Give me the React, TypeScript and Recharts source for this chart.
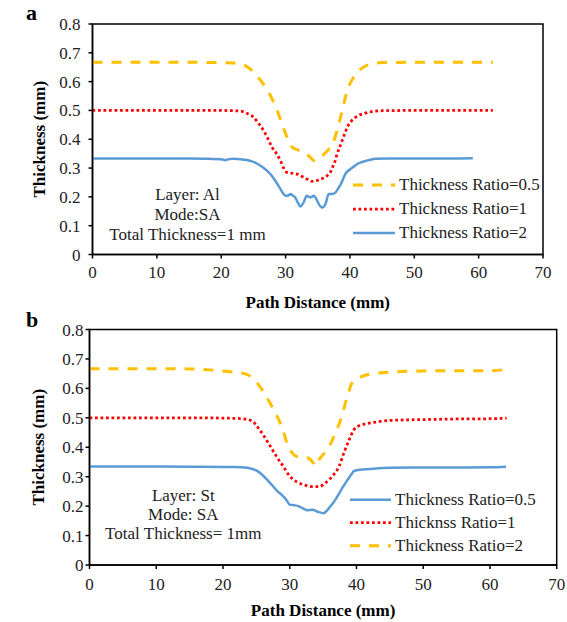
import React from 'react';
import { LineChart, Line, XAxis, YAxis, Legend, ReferenceArea } from 'recharts';

// panel a - Layer: Al, Mode: SA
const aRatio05X = [0, 5, 10, 15, 20, 22, 23, 24, 25, 26, 26.9, 27.8, 28.7, 29.4, 30, 30.8, 31.5, 32.3, 33.2, 33.9, 34.4, 35.2, 36, 36.7, 37.3, 38, 38.8, 39.6, 40.6, 41.5, 42.5, 43.5, 45, 50, 55, 60, 62.2];
const aRatio05Y = [0.667, 0.667, 0.667, 0.667, 0.666, 0.665, 0.662, 0.652, 0.634, 0.608, 0.58, 0.545, 0.5, 0.455, 0.42, 0.378, 0.366, 0.361, 0.35, 0.336, 0.326, 0.334, 0.349, 0.365, 0.384, 0.43, 0.5, 0.57, 0.616, 0.64, 0.655, 0.662, 0.666, 0.667, 0.667, 0.667, 0.667];

const aRatio1X = [0, 5, 10, 15, 20, 22, 23.2, 24, 25, 25.8, 26.6, 27.3, 27.9, 28.6, 29.2, 29.7, 30.2, 31, 31.8, 32.8, 33.5, 34.1, 34.8, 35.4, 36, 36.5, 37, 37.3, 37.7, 38, 38.4, 38.8, 39.2, 39.6, 40.1, 40.6, 41.3, 42.3, 43.4, 45, 50, 55, 60, 62.2];
const aRatio1Y = [0.5, 0.5, 0.5, 0.5, 0.5, 0.499, 0.497, 0.49, 0.477, 0.455, 0.43, 0.4, 0.372, 0.35, 0.326, 0.3, 0.285, 0.282, 0.279, 0.268, 0.26, 0.254, 0.256, 0.262, 0.266, 0.274, 0.287, 0.303, 0.325, 0.349, 0.372, 0.396, 0.42, 0.442, 0.46, 0.471, 0.482, 0.49, 0.496, 0.499, 0.5, 0.5, 0.5, 0.5];

const aRatio2X = [0, 5, 10, 15, 18, 20, 20.6, 21.2, 22, 23, 24, 24.8, 25.6, 26.4, 27.1, 27.8, 28.4, 29, 29.5, 30, 30.4, 30.8, 31.1, 31.5, 31.9, 32.3, 32.8, 33.3, 33.6, 33.9, 34.4, 34.9, 35.3, 35.7, 36.2, 36.7, 37.3, 37.8, 38.2, 38.6, 39.3, 40.1, 40.6, 41.2, 42, 43, 44, 46, 50, 55, 59.1];
const aRatio2Y = [0.333, 0.333, 0.333, 0.333, 0.332, 0.331, 0.327, 0.331, 0.332, 0.331, 0.328, 0.323, 0.315, 0.304, 0.291, 0.275, 0.256, 0.235, 0.216, 0.204, 0.205, 0.21, 0.205, 0.198, 0.18, 0.167, 0.181, 0.204, 0.2, 0.198, 0.204, 0.187, 0.17, 0.163, 0.175, 0.21, 0.21, 0.216, 0.23, 0.245, 0.28, 0.297, 0.305, 0.315, 0.322, 0.328, 0.332, 0.333, 0.333, 0.333, 0.334];

// panel b - Layer: St, Mode: SA
const bRatio05X = [0, 5, 10, 15, 20, 22, 23.3, 24.1, 24.9, 25.7, 26.6, 27.4, 28.1, 28.8, 29.4, 30, 30.7, 31.3, 31.9, 32.7, 33.4, 34.2, 35.1, 35.5, 35.9, 36.4, 36.9, 37.4, 37.9, 38.4, 38.9, 39.3, 39.6, 40.3, 42, 45, 50, 55, 60, 62.4];
const bRatio05Y = [0.335, 0.335, 0.335, 0.334, 0.333, 0.333, 0.331, 0.328, 0.322, 0.31, 0.29, 0.27, 0.252, 0.238, 0.224, 0.205, 0.203, 0.2, 0.193, 0.186, 0.188, 0.181, 0.176, 0.183, 0.194, 0.208, 0.224, 0.243, 0.263, 0.28, 0.297, 0.31, 0.319, 0.323, 0.326, 0.33, 0.331, 0.331, 0.332, 0.334];

const bRatio1X = [0, 5, 10, 15, 20, 22.8, 24.3, 25.5, 26.8, 28, 29, 30, 31, 32.2, 33.4, 34.4, 35.4, 36.4, 37.4, 38.1, 38.9, 39.6, 40.3, 41.5, 43, 45, 50, 55, 60, 62.5];
const bRatio1Y = [0.5, 0.5, 0.5, 0.5, 0.499, 0.497, 0.49, 0.459, 0.414, 0.369, 0.336, 0.302, 0.283, 0.272, 0.266, 0.266, 0.28, 0.302, 0.336, 0.38, 0.425, 0.459, 0.472, 0.48, 0.486, 0.491, 0.494, 0.496, 0.497, 0.499];

const bRatio2X = [0, 5, 10, 15, 18.4, 21.9, 23.2, 24.3, 25.2, 26.1, 27.5, 28.8, 29.7, 30.4, 31, 32.2, 33, 33.6, 33.9, 34.4, 35, 35.6, 36.6, 37.6, 38.6, 39.3, 40, 41, 42.5, 45, 50, 55, 60, 62.3];
const bRatio2Y = [0.667, 0.667, 0.667, 0.666, 0.662, 0.654, 0.65, 0.638, 0.616, 0.587, 0.531, 0.47, 0.408, 0.38, 0.369, 0.367, 0.36, 0.345, 0.336, 0.358, 0.375, 0.391, 0.436, 0.492, 0.57, 0.617, 0.632, 0.642, 0.65, 0.655, 0.659, 0.66, 0.66, 0.664];

const xTicks = [0, 10, 20, 30, 40, 50, 60, 70];
const yTicks = [0, 0.1, 0.2, 0.3, 0.4, 0.5, 0.6, 0.7, 0.8];

const aNotes = ['Layer: Al', 'Mode:SA', 'Total Thickness=1 mm'];
const bNotes = ['Layer: St', 'Mode: SA', 'Total Thickness= 1mm'];

const YELLOW = '#FFC000';
const RED = '#FF0000';
const BLUE = '#5B9BD5';
const FONT = '"Liberation Serif", "Times New Roman", serif';

const zip = (xs: number[], ys: number[]) => xs.map((x, i) => ({ x, y: ys[i] }));

interface Series {
  name: string;
  data: { x: number; y: number }[];
  color: string;
  width: number;
  dash?: string;
}

const yellowStyle = { color: YELLOW, width: 3, dash: '10 9' };
const redStyle = { color: RED, width: 2.75, dash: '2.75 2.75' };
const blueStyle = { color: BLUE, width: 2.5 };

const seriesA: Series[] = [
  { name: 'Thickness Ratio=0.5', data: zip(aRatio05X, aRatio05Y), ...yellowStyle },
  { name: 'Thickness Ratio=1', data: zip(aRatio1X, aRatio1Y), ...redStyle },
  { name: 'Thickness Ratio=2', data: zip(aRatio2X, aRatio2Y), ...blueStyle },
];

const seriesB: Series[] = [
  { name: 'Thickness Ratio=0.5', data: zip(bRatio05X, bRatio05Y), ...blueStyle },
  { name: 'Thicknss Ratio=1', data: zip(bRatio1X, bRatio1Y), ...redStyle },
  { name: 'Thickness Ratio=2', data: zip(bRatio2X, bRatio2Y), ...yellowStyle },
];

function LegendBox({ items, rowH, sampleW }: { items: Series[]; rowH: number; sampleW: number }) {
  return (
    <div style={{ fontFamily: FONT }}>
      {items.map(s => (
        <div key={s.name} style={{ display: 'flex', alignItems: 'center', height: rowH }}>
          <svg width={sampleW} height={rowH}>
            <line x1={0} x2={sampleW} y1={rowH / 2} y2={rowH / 2} stroke={s.color} strokeWidth={s.width} strokeDasharray={s.dash} />
          </svg>
          <span style={{ marginLeft: 4, fontSize: 17, color: '#222', lineHeight: rowH + 'px', whiteSpace: 'nowrap' }}>{s.name}</span>
        </div>
      ))}
    </div>
  );
}

interface PanelProps {
  series: Series[];
  height: number;
  margin: { top: number; right: number; bottom: number; left: number };
  yWidth: number;
  yTickMargin: number;
  xTickMargin: number;
  xLabelOffset: number;
  yLabelOffset: number;
  legendLeft: number;
  legendTop: number;
  legendRowH: number;
  legendSampleW: number;
}

function Panel(p: PanelProps) {
  const axisStyle = { stroke: '#000', strokeWidth: 1.5 };
  const tickStyle = { fill: '#222', fontSize: 17, fontFamily: FONT };
  const titleStyle = { fill: '#000', fontSize: 17, fontWeight: 'bold', fontFamily: FONT, textAnchor: 'middle' as const };
  return (
    <LineChart width={567} height={p.height} margin={p.margin}>
      <XAxis
        type="number"
        dataKey="x"
        domain={[0, 70]}
        ticks={xTicks}
        height={30}
        tickSize={4}
        tickMargin={p.xTickMargin}
        axisLine={axisStyle}
        tickLine={axisStyle}
        tick={tickStyle}
        label={{ value: 'Path Distance (mm)', position: 'bottom', offset: p.xLabelOffset, style: titleStyle }}
      />
      <YAxis
        type="number"
        domain={[0, 0.8]}
        ticks={yTicks}
        width={p.yWidth}
        tickSize={4}
        tickMargin={p.yTickMargin}
        axisLine={axisStyle}
        tickLine={axisStyle}
        tick={tickStyle}
        label={{ value: 'Thickness (mm)', angle: -90, position: 'insideLeft', offset: p.yLabelOffset, style: titleStyle }}
      />
      <ReferenceArea x1={0} x2={70} y1={0} y2={0.8} fill="none" fillOpacity={0} stroke="#000" strokeWidth={1.5} />
      {p.series.map(s => (
        <Line
          key={s.name}
          name={s.name}
          data={s.data}
          dataKey="y"
          type="monotone"
          stroke={s.color}
          strokeWidth={s.width}
          strokeDasharray={s.dash}
          dot={false}
          activeDot={false}
          isAnimationActive={false}
        />
      ))}
      <Legend
        layout="vertical"
        align="center"
        verticalAlign="middle"
        wrapperStyle={{ left: p.legendLeft, top: p.legendTop, width: 210 }}
        content={() => <LegendBox items={p.series} rowH={p.legendRowH} sampleW={p.legendSampleW} />}
      />
    </LineChart>
  );
}

function Notes({ lines, center, top, lineH }: { lines: string[]; center: number; top: number; lineH: number }) {
  return (
    <div style={{ position: 'absolute', left: center - 110, top, width: 220, textAlign: 'center', fontSize: 17, lineHeight: lineH + 'px', color: '#222', fontFamily: FONT }}>
      {lines.map(l => (
        <div key={l}>{l}</div>
      ))}
    </div>
  );
}

export default function App() {
  const letter = { position: 'absolute' as const, fontSize: 22, fontWeight: 'bold' as const, lineHeight: '22px', fontFamily: FONT, color: '#000' };
  return (
    <div style={{ position: 'absolute', left: 0, top: 0, width: 567, height: 622, background: '#fff', fontFamily: FONT }}>
      <div style={{ position: 'absolute', left: 0, top: 0 }}>
        <Panel
          series={seriesA}
          height={318}
          margin={{ top: 24, right: 24, bottom: 33.5, left: 0 }}
          yWidth={92.5}
          yTickMargin={8}
          xTickMargin={7}
          xLabelOffset={11.8}
          yLabelOffset={39}
          legendLeft={353}
          legendTop={173}
          legendRowH={24}
          legendSampleW={42}
        />
      </div>
      <div style={{ position: 'absolute', left: 0, top: 305 }}>
        <Panel
          series={seriesB}
          height={317}
          margin={{ top: 24.5, right: 10.3, bottom: 27, left: 0 }}
          yWidth={89.5}
          yTickMargin={2}
          xTickMargin={9}
          xLabelOffset={9}
          yLabelOffset={37.5}
          legendLeft={350}
          legendTop={182.7}
          legendRowH={23.3}
          legendSampleW={41}
        />
      </div>
      <Notes lines={aNotes} center={187.5} top={185} lineH={20} />
      <Notes lines={bNotes} center={183.3} top={485.5} lineH={19.3} />
      <div style={{ ...letter, left: 26, top: 1.6 }}>a</div>
      <div style={{ ...letter, left: 26, top: 308.6 }}>b</div>
    </div>
  );
}
